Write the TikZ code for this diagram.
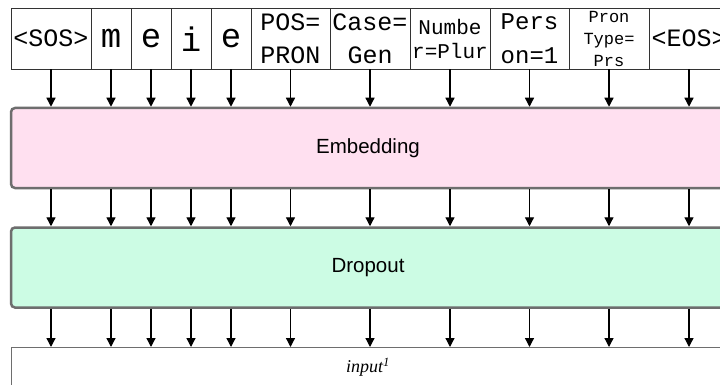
\documentclass[tikz,border=0pt]{standalone}
\usepackage{fontspec}
\setmainfont{Liberation Serif}
\newfontfamily\monofnt{Liberation Mono}
\newfontfamily\sansfnt{Liberation Sans}
\usetikzlibrary{arrows.meta}
\definecolor{embfill}{HTML}{FFE0F0}
\definecolor{dropfill}{HTML}{CCFCE4}
\definecolor{layerdraw}{HTML}{6E6E6E}
\definecolor{celldraw}{HTML}{333333}
\tikzset{
  cellbox/.style={draw=celldraw, line width=0.9pt, rectangle, inner sep=0pt,
    minimum height=60.5pt, align=center},
  layerbox/.style={draw=layerdraw, line width=2.5pt, rounded corners=4pt,
    minimum width=714pt, minimum height=80pt, inner sep=0pt, font=\sansfnt\fontsize{20.5}{24}\selectfont},
  flow/.style={draw=black, line width=1.3pt, -{Triangle[width=9pt,length=9pt]}},
}
\begin{document}
\begin{tikzpicture}[x=1pt,y=-1pt]
\useasboundingbox (0,0) rectangle (720,385);
\clip (0,0) rectangle (720,385);
\fill[white] (0,0) rectangle (720,385);
% token cells
\node[cellbox, minimum width=80pt, font=\monofnt\fontsize{25}{30}\selectfont] (c1) at (51,38.75) {<SOS>};
\node[cellbox, minimum width=40pt, font=\monofnt\fontsize{34}{40}\selectfont] (c2) at (111,38.75) {m};
\node[cellbox, minimum width=40pt, font=\monofnt\fontsize{34}{40}\selectfont] (c3) at (151,38.75) {e};
\node[cellbox, minimum width=40pt, font=\monofnt\fontsize{34}{40}\selectfont] (c4) at (191,38.75) {i};
\node[cellbox, minimum width=40pt, font=\monofnt\fontsize{34}{40}\selectfont] (c5) at (231,38.75) {e};
\node[cellbox, minimum width=79pt, font=\monofnt\fontsize{25}{33}\selectfont] (c6) at (290.5,38.75) {POS=\\PRON};
\node[cellbox, minimum width=80pt, font=\monofnt\fontsize{25}{33}\selectfont] (c7) at (370,38.75) {Case=\\Gen};
\node[cellbox, minimum width=80pt, font=\monofnt\fontsize{21}{24}\selectfont] (c8) at (450,38.75) {Numbe\\r=Plur};
\node[cellbox, minimum width=79pt, font=\monofnt\fontsize{24}{34}\selectfont] (c9) at (529.5,38.75) {Pers\\on=1};
\node[cellbox, minimum width=80pt, font=\monofnt\fontsize{17}{22}\selectfont] (c10) at (609,38.75) {Pron\\Type=\\Prs};
\node[cellbox, minimum width=80pt, font=\monofnt\fontsize{25}{30}\selectfont] (c11) at (689,38.75) {<EOS>};
% layers
\node[layerbox, fill=embfill] (emb) at (368,148) {Embedding};
\node[layerbox, fill=dropfill] (drop) at (368,267.5) {Dropout};
\node[draw=layerdraw, line width=1pt, minimum width=714pt, minimum height=40pt, inner sep=0pt,
  anchor=north, font=\itshape\fontsize{18}{20}\selectfont] (inp) at (368,347) {input\textsuperscript{1}};
% connectors
\foreach \c in {c1,c2,c3,c4,c5,c6,c7,c8,c9,c10,c11}{
  \draw[flow] (\c.south) -- (\c.south |- emb.north);
  \draw[flow] (\c.south |- emb.south) -- (\c.south |- drop.north);
  \draw[flow] (\c.south |- drop.south) -- (\c.south |- inp.north);
}
\end{tikzpicture}
\end{document}
